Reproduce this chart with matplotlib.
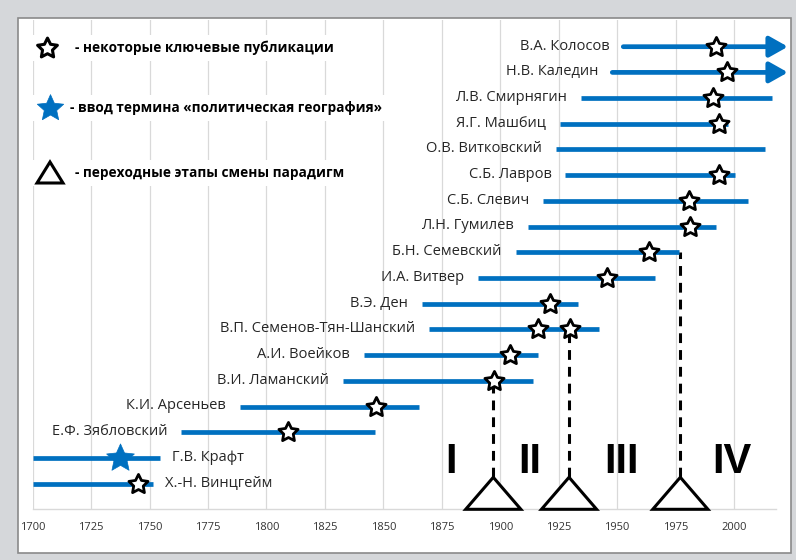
import matplotlib
matplotlib.use('Agg')
import matplotlib.pyplot as plt
import numpy as np
from matplotlib.path import Path
from matplotlib.patches import Rectangle, Polygon
from matplotlib.lines import Line2D

plt.rcParams['font.family'] = ['Open Sans', 'DejaVu Sans']

# ---------------- data ----------------
names = ['В.А. Колосов', 'Н.В. Каледин', 'Л.В. Смирнягин', 'Я.Г. Машбиц',
         'О.В. Витковский', 'С.Б. Лавров', 'С.Б. Слевич', 'Л.Н. Гумилев',
         'Б.Н. Семевский', 'И.А. Витвер', 'В.Э. Ден', 'В.П. Семенов-Тян-Шанский',
         'А.И. Воейков', 'В.И. Ламанский', 'К.И. Арсеньев', 'Е.Ф. Зябловский',
         'Г.В. Крафт', 'Х.-Н. Винцгейм']
starts = [1952.6, 1947.9, 1934.5, 1925.5, 1923.7, 1927.8, 1918.4, 1911.7,
          1906.6, 1890.6, 1866.4, 1869.6, 1841.7, 1832.6, 1788.7, 1763.4,
          1700.3, 1700.0]
ends = [2023.0, 2023.0, 2016.3, 1997.3, 2013.2, 2000.4, 2006.1, 1992.3,
        1976.6, 1966.2, 1933.4, 1942.2, 1916.3, 1914.1, 1865.2, 1846.4,
        1754.4, 1751.3]
ongoing = [True, True] + [False] * 16
label_right = [False] * 16 + [True, True]
key_pubs = [[1992.3], [1996.8], [1990.8], [1993.6], [], [1993.7], [1980.8],
            [1981.0], [1963.5], [1945.7], [1921.3], [1916.3, 1929.8], [1904.2],
            [1897.2], [1846.7], [1809.3], [], [1745.2]]
term_name = 'Г.В. Крафт'
term_year = 1737.3
transitions = [1897.0, 1929.4, 1977.0]
transition_rows = ['В.И. Ламанский', 'В.П. Семенов-Тян-Шанский', 'Б.Н. Семевский']
periods = ['I', 'II', 'III', 'IV']
period_x = [1879.0, 1912.7, 1952.0, 1999.0]
xticks = list(range(1700, 2001, 25))
legend_labels = ['- некоторые ключевые публикации',
                 '- ввод термина «политическая география»',
                 '- переходные этапы смены парадигм']

# ---------------- styles ----------------
BLUE = '#0070c0'
TXT = '#262626'
GRID = '#d9d9d9'
W, H = 796, 560


def star_path(inner=0.5):
    ang = np.pi / 2 + np.arange(10) * np.pi / 5
    r = np.where(np.arange(10) % 2 == 0, 1.0, inner)
    v = np.column_stack([r * np.cos(ang), r * np.sin(ang)])
    v = np.vstack([v, v[0]])
    codes = [Path.MOVETO] + [Path.LINETO] * 9 + [Path.CLOSEPOLY]
    return Path(v, codes)


STAR = star_path(0.5)
STAR_F = star_path(0.47)

fig = plt.figure(figsize=(W / 100, H / 100), dpi=100)
fig.patch.set_facecolor('#d5d7da')
# white sheet with a dark border
fig.add_artist(Rectangle((18 / W, 1 - 553 / H), (791 - 18) / W, (553 - 18) / H,
                         transform=fig.transFigure, facecolor='white',
                         edgecolor='#8a8a8a', lw=1.2, zorder=0))

px_per_year = 2.338
x0_px, base_px, top_px, right_px = 32.7, 509.3, 20.0, 776.0
row_h = 25.7
ax = fig.add_axes([x0_px / W, 1 - base_px / H, (right_px - x0_px) / W,
                   (base_px - top_px) / H])
ax.patch.set_alpha(0)
ax.set_xlim(1700, 1700 + (right_px - x0_px) / px_per_year)
ax.set_ylim(0, (base_px - top_px) / row_h)
ax.set_xticks(xticks)
ax.set_xticklabels([str(t) for t in xticks], fontsize=8, color='#333333')
ax.tick_params(axis='x', length=0, pad=9)
ax.set_yticks([])
for s in ['left', 'right', 'top']:
    ax.spines[s].set_visible(False)
ax.spines['bottom'].set_color(GRID)
ax.spines['bottom'].set_linewidth(1.0)
ax.grid(axis='x', color=GRID, lw=0.9)
ax.set_axisbelow(True)

n = len(names)
rows = {nm: n - i for i, nm in enumerate(names)}

for i, nm in enumerate(names):
    y = n - i
    if ongoing[i]:
        ax.annotate('', xy=(ends[i], y), xytext=(starts[i], y),
                    xycoords='data', annotation_clip=False,
                    arrowprops=dict(arrowstyle='-|>,head_length=1.1,head_width=0.62',
                                    mutation_scale=10, lw=3.4, color=BLUE,
                                    shrinkA=0, shrinkB=0, clip_on=False),
                    zorder=4)
    else:
        ax.plot([starts[i], ends[i]], [y, y], color=BLUE, lw=3.4,
                solid_capstyle='butt', zorder=4, clip_on=False)
    if label_right[i]:
        ax.annotate(nm, xy=(ends[i], y), xytext=(9, 0.5), textcoords='offset points',
                    ha='left', va='center', fontsize=10.5, color=TXT)
    else:
        ax.annotate(nm, xy=(starts[i], y), xytext=(-10, 0.5), textcoords='offset points',
                    ha='right', va='center', fontsize=10.5, color=TXT)
    for k in key_pubs[i]:
        ax.plot([k], [y], marker=STAR, ms=14.5, mfc='white', mec='black',
                mew=2.0, zorder=7, clip_on=False)

# filled star - introduction of the term
ax.plot([term_year], [rows[term_name]], marker=STAR_F, ms=21, mfc=BLUE,
        mec=BLUE, mew=0.5, zorder=7)

# transitions: dashed lines and triangles
tri_half = 11.8
tri_h = 1.245
for tx, rn in zip(transitions, transition_rows):
    ax.plot([tx, tx], [tri_h, rows[rn]], color='black', lw=2.2,
            dashes=(3.2, 2.3), zorder=3)
    ax.add_patch(Polygon([(tx - tri_half, 0), (tx + tri_half, 0), (tx, tri_h)],
                         closed=True, facecolor='white', edgecolor='black',
                         lw=2.2, joinstyle='miter', zorder=5, clip_on=False))

for p, px in zip(periods, period_x):
    ax.text(px, 1.84, p, ha='center', va='center', fontsize=30,
            fontweight='bold', family='Liberation Sans', color='black')

# ---------------- legend (top-left) ----------------
leg_y = [48, 108, 173]
leg_tx = [75, 70, 75]
texts = []
for yy, tx, lab in zip(leg_y, leg_tx, legend_labels):
    t = fig.text(tx / W, 1 - yy / H, lab, ha='left', va='center', fontsize=9.8,
                 fontweight='bold', color='black', zorder=6)
    texts.append(t)

fig.canvas.draw()
r = fig.canvas.get_renderer()
for yy, t in zip(leg_y, texts):
    bb = t.get_window_extent(renderer=r)
    x1 = bb.x1 + 3
    fig.add_artist(Rectangle((29 / W, 1 - (yy + 13) / H), (x1 - 29) / W, 26 / H,
                             transform=fig.transFigure, facecolor='white',
                             edgecolor='none', zorder=2))

fig.add_artist(Line2D([47 / W], [1 - 48 / H], transform=fig.transFigure,
                      marker=STAR, ms=15, mfc='white', mec='black', mew=2.2,
                      ls='none', zorder=4))
fig.add_artist(Line2D([50 / W], [1 - 108 / H], transform=fig.transFigure,
                      marker=STAR_F, ms=20, mfc=BLUE, mec=BLUE, mew=0.5,
                      ls='none', zorder=4))
fig.add_artist(Polygon([((50 - 13) / W, 1 - 183 / H), ((50 + 13) / W, 1 - 183 / H),
                        (50 / W, 1 - 162 / H)], closed=True,
                       transform=fig.transFigure, facecolor='white',
                       edgecolor='black', lw=2.2, joinstyle='miter', zorder=4))

fig.savefig('out.png', dpi=100, facecolor=fig.get_facecolor())
